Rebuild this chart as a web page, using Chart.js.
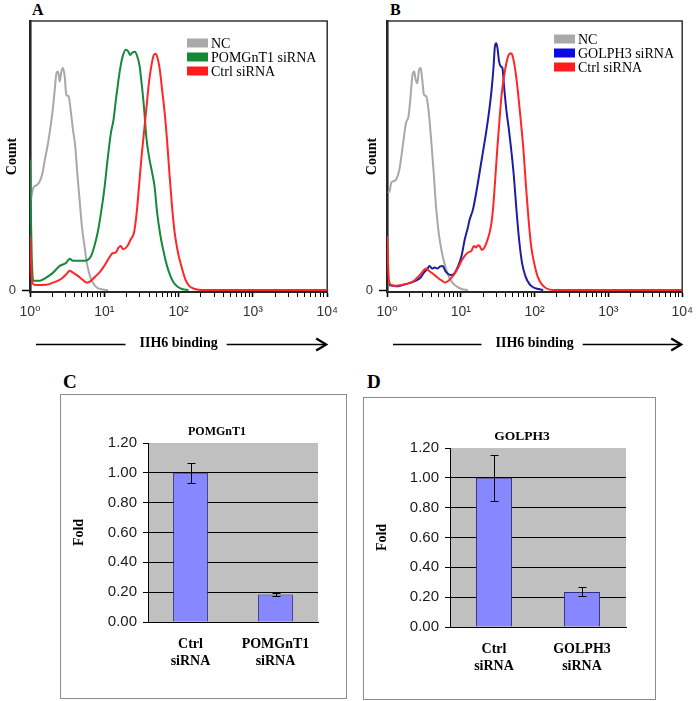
<!DOCTYPE html>
<html>
<head>
<meta charset="UTF-8" />
<title>IIH6 binding after POMGnT1 / GOLPH3 knockdown</title>
<script src="https://cdn.jsdelivr.net/npm/chart.js@4.4.9/dist/chart.umd.min.js"></script>
<style>
    body { margin: 0; background: #fff; width: 700px; height: 701px; position: relative; overflow: hidden; }
    canvas { position: absolute; }
    .letter { position: absolute; font-family: 'Liberation Serif', serif; font-weight: bold; line-height: 1; color: #000; }
    .box { position: absolute; border: 1px solid #8c8c8c; box-sizing: border-box; }
</style>
</head>
<body>
<div class="letter" style="left:32px; top:2px; font-size:16px;">A</div>
<div class="letter" style="left:390px; top:2px; font-size:16px;">B</div>
<div class="letter" style="left:63px; top:372px; font-size:19px;">C</div>
<div class="letter" style="left:367px; top:372px; font-size:19px;">D</div>
<div class="box" style="left:60px; top:394px; width:287px; height:305px;"></div>
<div class="box" style="left:363px; top:397px; width:293px; height:303px;"></div>

<canvas id="histA" width="345" height="356" style="left:0; top:0;"></canvas>
<canvas id="histB" width="340" height="356" style="left:360px; top:0;"></canvas>
<canvas id="barC" width="282" height="300" style="left:62px; top:396px;"></canvas>
<canvas id="barD" width="288" height="298" style="left:365px; top:399px;"></canvas>

<script>
    // ---- flow histograms: [log10(IIH6 intensity), relative count] ----
    const ncA = [[0.013,33.7],[0.044,38.0],[0.089,39.0],[0.133,40.5],[0.169,43.6],[0.200,48.5],[0.231,52.8],[0.267,59.0],[0.289,63.3],[0.311,68.3],[0.333,74.4],[0.356,80.6],[0.378,81.2],[0.400,77.5],[0.422,81.2],[0.444,82.5],[0.467,79.4],[0.489,72.6],[0.520,72.0],[0.547,67.0],[0.578,59.6],[0.609,53.5],[0.636,43.6],[0.667,33.7],[0.698,23.8],[0.733,16.4],[0.764,10.2],[0.800,5.9],[0.844,2.8],[0.898,1.0],[0.978,0.2],[1.050,0]];
    const pomgnt1A = [[0.000,48.5],[0.022,14.0],[0.044,3.5],[0.133,3.5],[0.222,4.7],[0.311,6.5],[0.400,9.0],[0.489,10.2],[0.533,11.7],[0.578,10.9],[0.733,10.9],[0.822,12.7],[0.867,16.4],[0.911,21.4],[0.956,28.8],[1.000,37.4],[1.044,48.5],[1.089,58.4],[1.124,63.3],[1.156,70.7],[1.191,78.1],[1.222,83.7],[1.253,87.4],[1.289,89.3],[1.324,88.6],[1.347,87.4],[1.378,88.3],[1.413,88.6],[1.444,86.8],[1.476,83.1],[1.502,76.9],[1.533,68.3],[1.569,55.9],[1.609,48.5],[1.644,43.6],[1.676,38.6],[1.711,28.8],[1.756,20.1],[1.800,14.0],[1.844,9.0],[1.889,5.3],[1.933,2.8],[1.978,1.4],[2.044,0.4],[2.133,0]];
    const ctrlA = [[0.000,20.1],[0.031,2.8],[0.067,1.9],[0.222,2.0],[0.311,2.8],[0.378,3.5],[0.444,4.7],[0.489,5.9],[0.533,7.2],[0.578,6.5],[0.644,5.3],[0.711,3.8],[0.764,2.8],[0.800,3.1],[0.844,4.1],[0.889,5.3],[0.933,6.5],[1.000,9.0],[1.067,12.1],[1.111,13.7],[1.156,14.0],[1.191,15.8],[1.222,16.4],[1.253,15.2],[1.311,16.4],[1.356,18.9],[1.400,21.4],[1.436,28.8],[1.467,38.6],[1.502,49.8],[1.533,58.4],[1.569,68.3],[1.600,76.9],[1.636,83.7],[1.667,87.4],[1.689,87.8],[1.711,86.8],[1.747,81.9],[1.778,74.4],[1.813,65.8],[1.844,55.9],[1.876,43.6],[1.911,31.2],[1.947,21.4],[1.991,14.0],[2.036,9.0],[2.089,4.1],[2.142,1.6],[2.222,0.4],[2.311,0],[4.000,0]];

    const ncB = [[0.013,36.2],[0.035,36.8],[0.058,39.9],[0.093,40.5],[0.124,41.1],[0.168,44.8],[0.213,53.5],[0.257,62.1],[0.292,64.6],[0.315,70.7],[0.346,80.0],[0.368,81.2],[0.390,78.1],[0.412,76.9],[0.434,81.9],[0.456,82.5],[0.478,78.1],[0.501,72.6],[0.532,72.0],[0.567,65.8],[0.598,55.9],[0.633,43.6],[0.664,31.2],[0.700,21.4],[0.744,14.0],[0.788,9.0],[0.833,5.3],[0.886,2.8],[0.944,1.4],[1.010,0.4],[1.099,0]];
    const golph3B = [[0.027,1.9],[0.124,1.4],[0.213,1.9],[0.301,2.6],[0.390,3.5],[0.456,4.7],[0.501,6.5],[0.545,7.8],[0.576,9.0],[0.611,8.0],[0.647,8.4],[0.678,8.0],[0.722,8.8],[0.757,9.0],[0.788,7.2],[0.833,5.9],[0.877,5.6],[0.921,6.5],[0.965,9.0],[1.010,12.7],[1.054,18.9],[1.090,22.6],[1.121,26.3],[1.165,30.0],[1.209,36.2],[1.254,43.6],[1.298,51.0],[1.342,58.4],[1.386,67.0],[1.417,74.4],[1.444,83.1],[1.462,90.5],[1.480,91.7],[1.497,89.9],[1.519,84.9],[1.542,83.1],[1.564,82.5],[1.586,75.7],[1.617,67.0],[1.652,59.6],[1.683,52.2],[1.719,42.3],[1.750,31.2],[1.785,20.1],[1.829,10.2],[1.874,5.3],[1.931,2.2],[1.984,1.0],[2.051,0.4],[2.117,0]];
    const ctrlB = [[0.000,20.1],[0.027,3.5],[0.058,1.9],[0.124,1.6],[0.213,2.0],[0.301,2.6],[0.368,3.5],[0.412,4.7],[0.456,5.9],[0.501,7.5],[0.532,8.0],[0.567,7.2],[0.611,6.3],[0.656,5.3],[0.700,4.3],[0.744,3.5],[0.788,2.8],[0.833,3.5],[0.877,4.7],[0.921,6.3],[0.965,8.4],[1.010,10.9],[1.054,12.7],[1.099,14.0],[1.143,14.6],[1.178,16.4],[1.209,15.8],[1.231,16.7],[1.254,16.4],[1.285,14.9],[1.320,15.8],[1.364,18.9],[1.409,23.8],[1.440,31.2],[1.466,41.1],[1.497,53.5],[1.528,64.6],[1.555,73.2],[1.586,79.4],[1.617,84.3],[1.643,87.0],[1.674,88.0],[1.697,87.4],[1.719,84.9],[1.750,79.4],[1.785,70.7],[1.816,62.1],[1.852,51.0],[1.883,38.6],[1.918,26.3],[1.953,16.4],[1.993,10.2],[2.038,5.3],[2.095,2.2],[2.162,0.6],[2.250,0],[4.000,0]];

    const decadeLabels = ['10⁰', '10¹', '10²', '10³', '10⁴'];
    const minorSteps = [2, 3, 4, 5, 6, 7, 8, 9];

    // ---- qPCR fold change ----
    const barLabelsC = [['Ctrl', 'siRNA'], ['POMGnT1', 'siRNA']];
    const foldC = [1.00, 0.185];
    const errC = [0.065, 0.01];
    const barLabelsD = [['Ctrl', 'siRNA'], ['GOLPH3', 'siRNA']];
    const foldD = [1.00, 0.235];
    const errD = [0.155, 0.03];

    const serif = '"Liberation Serif", "Times New Roman", serif';
    const sans = '"Liberation Sans", "DejaVu Sans", Arial, sans-serif';

    function toPoints(arr) {
        return arr.map(p => ({ x: Math.pow(10, p[0]), y: p[1] }));
    }

    function isDecade(v) {
        const e = Math.log10(v);
        return Math.abs(e - Math.round(e)) < 1e-9;
    }

    // legend drawn inside the plot, top right
    const insideLegend = {
        id: 'insideLegend',
        afterDatasetsDraw(chart, args, opts) {
            const { ctx, chartArea: a } = chart;
            ctx.save();
            ctx.font = '14px ' + serif;
            ctx.textBaseline = 'middle';
            chart.data.datasets.forEach((ds, i) => {
                const y = a.top + opts.top + i * 14;
                ctx.fillStyle = ds.swatch;
                ctx.fillRect(a.left + opts.left, y - 4.5, 21, 9);
                ctx.fillStyle = '#000';
                ctx.fillText(ds.label, a.left + opts.left + 24, y + 1);
            });
            ctx.restore();
        }
    };

    // box round the histogram + the "binding" arrow under the axis
    const histFrame = {
        id: 'histFrame',
        beforeDatasetsDraw(chart) {
            const { ctx, chartArea: a } = chart;
            ctx.save();
            ctx.strokeStyle = '#333';
            ctx.lineWidth = 1.5;
            ctx.strokeRect(a.left, a.top, a.width, a.height);
            ctx.restore();
        },
        afterDraw(chart) {
            const { ctx, chartArea: a } = chart;
            const xs = chart.scales.x;
            const y = Math.round(xs.bottom - 4 - 8.4) + 0.5;
            ctx.save();
            ctx.font = 'bold 14px ' + serif;
            const w = ctx.measureText(xs.options.title.text).width;
            const cx = (a.left + a.right) / 2;
            ctx.strokeStyle = '#000';
            ctx.lineWidth = 1.5;
            ctx.beginPath();
            ctx.moveTo(a.left + 6, y);
            ctx.lineTo(cx - w / 2 - 14, y);
            ctx.moveTo(cx + w / 2 + 9, y);
            ctx.lineTo(a.right - 1, y);
            ctx.stroke();
            ctx.lineWidth = 2.2;
            ctx.beginPath();
            ctx.moveTo(a.right - 11, y - 6);
            ctx.lineTo(a.right - 1, y);
            ctx.lineTo(a.right - 11, y + 6);
            ctx.stroke();
            ctx.restore();
        }
    };

    function histChart(id, datasets, yWidth, padRight, legendPos) {
        return new Chart(document.getElementById(id), {
            type: 'line',
            data: { datasets: datasets },
            options: {
                responsive: false,
                animation: false,
                layout: { padding: { top: 21, right: padRight, left: 0, bottom: 0 } },
                elements: { point: { radius: 0 }, line: { borderWidth: 2, cubicInterpolationMode: 'monotone' } },
                plugins: { legend: { display: false }, tooltip: { enabled: false }, insideLegend: legendPos },
                scales: {
                    x: {
                        type: 'logarithmic',
                        min: 1,
                        max: 10000,
                        afterBuildTicks: s => {
                            const t = [];
                            decadeLabels.forEach((lab, d) => {
                                t.push({ value: Math.pow(10, d) });
                                if (d < decadeLabels.length - 1) {
                                    minorSteps.forEach(k => t.push({ value: k * Math.pow(10, d) }));
                                }
                            });
                            s.ticks = t;
                        },
                        afterFit: s => { s.height = 64; },
                        ticks: {
                            autoSkip: false, maxRotation: 0, minRotation: 0, padding: 7,
                            color: '#333', font: { family: sans, size: 14 },
                            callback: v => isDecade(v) ? decadeLabels[Math.round(Math.log10(v))] : ''
                        },
                        grid: {
                            drawOnChartArea: false, tickLength: 5, tickColor: '#000',
                            tickWidth: c => isDecade(c.tick.value) ? 1.6 : 1
                        },
                        border: { color: '#000', width: 2 },
                        title: {
                            display: true, text: 'IIH6 binding', color: '#000',
                            font: { family: serif, size: 14, weight: 'bold' }, padding: { top: 4, bottom: 4 }
                        }
                    },
                    y: {
                        min: -0.7,
                        max: 100,
                        afterBuildTicks: s => { s.ticks = [{ value: 0 }]; },
                        afterFit: s => { s.width = yWidth; },
                        ticks: { padding: 6, color: '#333', font: { family: sans, size: 13 } },
                        grid: { drawOnChartArea: false, tickLength: 8, tickColor: '#000', tickWidth: 1.5 },
                        border: { color: '#000', width: 2.5 },
                        title: {
                            display: true, text: 'Count', color: '#000',
                            font: { family: serif, size: 14, weight: 'bold' }, padding: { top: 4, bottom: 0 }
                        }
                    }
                }
            },
            plugins: [histFrame, insideLegend]
        });
    }

    histChart('histA', [
        { label: 'NC', data: toPoints(ncA), borderColor: '#a8a8a8', swatch: '#a9a9a9', order: 3 },
        { label: 'POMGnT1 siRNA', data: toPoints(pomgnt1A), borderColor: '#17883a', swatch: '#138a35', order: 2 },
        { label: 'Ctrl siRNA', data: toPoints(ctrlA), borderColor: '#ff2626', swatch: '#ff1c1c', order: 1 }
    ], 30, 14, { left: 157, top: 22 });

    histChart('histB', [
        { label: 'NC', data: toPoints(ncB), borderColor: '#a8a8a8', swatch: '#a9a9a9', order: 3 },
        { label: 'GOLPH3 siRNA', data: toPoints(golph3B), borderColor: '#1c1ca6', swatch: '#0a0ae8', order: 2 },
        { label: 'Ctrl siRNA', data: toPoints(ctrlB), borderColor: '#ff2626', swatch: '#ff1c1c', order: 1 }
    ], 27, 11, { left: 167, top: 18 });

    // gray plot area, chart title and error bars for the bar panels
    const barExtras = {
        id: 'barExtras',
        beforeDraw(chart) {
            const { ctx, chartArea: a } = chart;
            ctx.save();
            ctx.fillStyle = '#c0c0c0';
            ctx.fillRect(a.left, a.top, a.width, a.height);
            ctx.restore();
        },
        afterDatasetsDraw(chart, args, opts) {
            const { ctx, chartArea: a } = chart;
            const ys = chart.scales.y;
            const vals = chart.data.datasets[0].data;
            ctx.save();
            ctx.strokeStyle = '#000';
            ctx.lineWidth = 1;
            chart.getDatasetMeta(0).data.forEach((bar, i) => {
                const top = Math.round(ys.getPixelForValue(vals[i] + opts.errors[i])) + 0.5;
                const bot = Math.round(ys.getPixelForValue(vals[i] - opts.errors[i])) + 0.5;
                const x = Math.round(bar.x) + 0.5;
                ctx.beginPath();
                ctx.moveTo(x, top); ctx.lineTo(x, bot);
                ctx.moveTo(x - 4, top); ctx.lineTo(x + 4, top);
                ctx.moveTo(x - 4, bot); ctx.lineTo(x + 4, bot);
                ctx.stroke();
            });
            ctx.font = 'bold ' + opts.titleSize + 'px ' + serif;
            ctx.fillStyle = '#000';
            ctx.textAlign = 'center';
            ctx.textBaseline = 'middle';
            ctx.fillText(opts.title, (a.left + a.right) / 2 - 16, a.top - 11);
            ctx.restore();
        }
    };

    function barChart(id, title, titleSize, labels, values, errors, yWidth, xHeight, padTop, padRight) {
        return new Chart(document.getElementById(id), {
            type: 'bar',
            data: {
                labels: labels,
                datasets: [{
                    data: values,
                    backgroundColor: '#8787ff',
                    borderColor: '#2e2e80',
                    borderWidth: 1,
                    barPercentage: 0.41,
                    categoryPercentage: 1
                }]
            },
            options: {
                responsive: false,
                animation: false,
                layout: { padding: { top: padTop, right: padRight, left: 0, bottom: 0 } },
                plugins: {
                    legend: { display: false },
                    tooltip: { enabled: false },
                    barExtras: { title: title, titleSize: titleSize, errors: errors }
                },
                scales: {
                    x: {
                        afterFit: s => { s.height = xHeight; },
                        grid: { display: false },
                        border: { color: '#000', width: 1 },
                        ticks: { color: '#000', padding: 6, font: { family: serif, size: 14, weight: 'bold', lineHeight: 1.2 } }
                    },
                    y: {
                        min: 0,
                        max: 1.2,
                        afterFit: s => { s.width = yWidth; },
                        ticks: {
                            stepSize: 0.2, padding: 6, color: '#1a1a1a',
                            font: { family: sans, size: 15 },
                            callback: v => v.toFixed(2)
                        },
                        grid: {
                            color: c => c.tick.value > 1.19 ? 'rgba(0,0,0,0)' : '#000',
                            lineWidth: 1, tickLength: 5, tickColor: '#000'
                        },
                        border: { color: '#000', width: 1 },
                        title: {
                            display: true, text: 'Fold', color: '#000',
                            font: { family: serif, size: 14, weight: 'bold' }, padding: { top: 9, bottom: 0 }
                        }
                    }
                }
            },
            plugins: [barExtras]
        });
    }

    barChart('barC', 'POMGnT1', 12, barLabelsC, foldC, errC, 86, 74, 47, 26);
    barChart('barD', 'GOLPH3', 13.5, barLabelsD, foldD, errD, 85, 70, 49, 27);
</script>
</body>
</html>
